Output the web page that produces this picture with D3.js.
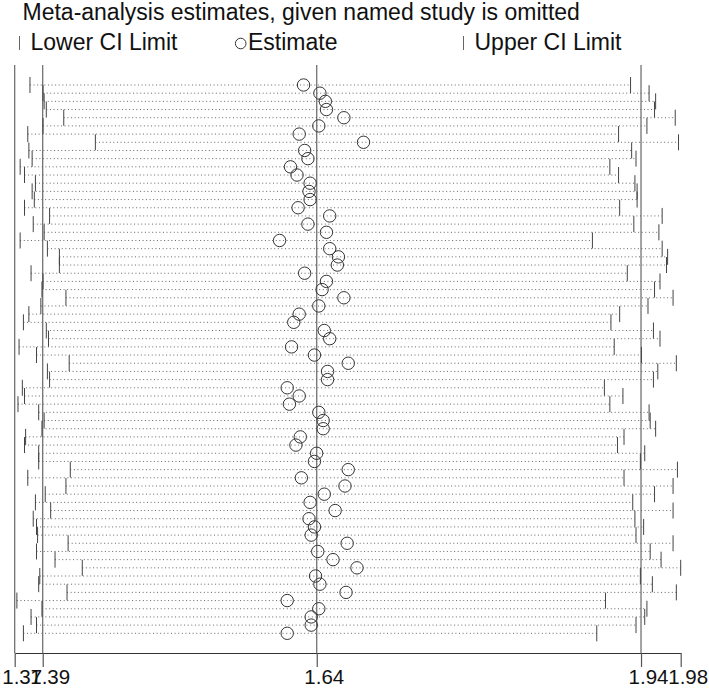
<!DOCTYPE html>
<html><head><meta charset="utf-8">
<script src="https://cdn.jsdelivr.net/npm/d3@7"></script>
<style>body{margin:0;background:#fff}svg{display:block}</style>
</head><body><svg id="c" width="709" height="688"></svg>
<script>
// Lower CI limit, estimate and upper CI limit when each study is omitted (rows top to bottom)
const lowerCI = [1.380,1.392,1.393,1.395,1.411,1.392,1.378,1.440,1.379,1.382,
1.371,1.375,1.385,1.382,1.384,1.375,1.398,1.383,1.393,1.371,
1.396,1.407,1.407,1.381,1.392,1.391,1.413,1.390,1.379,1.374,
1.395,1.397,1.370,1.386,1.416,1.396,1.398,1.373,1.375,1.369,
1.388,1.393,1.391,1.376,1.375,1.388,1.388,1.417,1.378,1.413,
1.394,1.385,1.399,1.383,1.386,1.387,1.415,1.386,1.403,1.428,
1.389,1.388,1.414,1.368,1.391,1.381,1.386,1.374];
const estimate = [1.631,1.646,1.651,1.652,1.668,1.645,1.627,1.686,1.632,1.635,
1.619,1.625,1.637,1.636,1.637,1.626,1.655,1.635,1.652,1.609,
1.655,1.663,1.662,1.632,1.652,1.648,1.668,1.645,1.627,1.622,
1.650,1.655,1.620,1.641,1.672,1.653,1.653,1.616,1.627,1.618,
1.645,1.649,1.649,1.628,1.624,1.643,1.641,1.672,1.629,1.669,
1.650,1.637,1.660,1.636,1.641,1.638,1.671,1.644,1.658,1.680,
1.642,1.646,1.670,1.616,1.645,1.638,1.638,1.616];
const upperCI = [1.931,1.948,1.954,1.953,1.972,1.946,1.920,1.975,1.932,1.936,
1.912,1.920,1.935,1.937,1.937,1.921,1.960,1.934,1.957,1.896,
1.960,1.965,1.964,1.928,1.958,1.953,1.970,1.947,1.921,1.913,
1.952,1.958,1.916,1.941,1.973,1.956,1.952,1.907,1.924,1.912,
1.948,1.949,1.954,1.925,1.919,1.944,1.940,1.974,1.925,1.970,
1.953,1.933,1.970,1.935,1.943,1.936,1.970,1.949,1.959,1.977,
1.940,1.951,1.973,1.908,1.946,1.944,1.936,1.900];
const studies = lowerCI.map((d, i) => "Study " + (i + 1));
// Axis: min lower, overall lower, overall estimate, overall upper, max upper
const tickValues = [1.366, 1.3917, 1.6431, 1.9406, 1.977];
const tickLabels = ["1.37", "1.39", "1.64", "1.94", "1.98"];
const refLines = [1.366, 1.3917, 1.6431, 1.9406];
const titleText = "Meta-analysis estimates, given named study is omitted";
const legendLabels = ["Lower CI Limit", "Estimate", "Upper CI Limit"];

const font = "'Liberation Sans', Arial, sans-serif";
const svg = d3.select("#c");
const x = d3.scaleLinear().domain([1.366, 1.977]).range([14.7, 680.7]);
const y = d3.scalePoint().domain(studies).range([85, 633.3]);
const axisY = 653, topY = 65;

// title
svg.append("text").attr("x", 22.5).attr("y", 19.5)
  .style("font-family", font).style("font-size", "23px").attr("fill", "#111")
  .text(titleText);

// legend
const lg = svg.append("g");
const legY = 50;
lg.append("line").attr("x1", 19.5).attr("x2", 19.5).attr("y1", legY - 14).attr("y2", legY).attr("stroke", "#666");
lg.append("text").attr("x", 30.5).attr("y", legY).style("font-family", font).style("font-size", "23px").attr("fill", "#111").text(legendLabels[0]);
lg.append("circle").attr("cx", 240.7).attr("cy", legY - 6.5).attr("r", 5.3).attr("fill", "none").attr("stroke", "#333");
lg.append("text").attr("x", 248).attr("y", legY).style("font-family", font).style("font-size", "23px").attr("fill", "#111").text(legendLabels[1]);
lg.append("line").attr("x1", 463.5).attr("x2", 463.5).attr("y1", legY - 14).attr("y2", legY).attr("stroke", "#666");
lg.append("text").attr("x", 474.5).attr("y", legY).style("font-family", font).style("font-size", "23px").attr("fill", "#111").text(legendLabels[2]);

// reference lines
svg.append("g").selectAll("line").data(refLines).join("line")
  .attr("x1", d => x(d)).attr("x2", d => x(d)).attr("y1", topY).attr("y2", axisY)
  .attr("stroke", "#666").attr("stroke-width", 1.2);

const rows = studies.map((s, i) => ({s, lo: lowerCI[i], est: estimate[i], hi: upperCI[i]}));

// dotted lines
svg.append("g").selectAll("line").data(rows).join("line")
  .attr("x1", d => x(d.lo)).attr("x2", d => x(d.hi))
  .attr("y1", d => y(d.s)).attr("y2", d => y(d.s))
  .attr("stroke", "#666").attr("stroke-width", 1).attr("stroke-dasharray", "1,2.6");

// CI ticks
const tickH = 8;
svg.append("g").selectAll("line").data(rows).join("line")
  .attr("x1", d => x(d.lo)).attr("x2", d => x(d.lo))
  .attr("y1", d => y(d.s) - tickH).attr("y2", d => y(d.s) + tickH)
  .attr("stroke", "#444").attr("stroke-width", 1);
svg.append("g").selectAll("line").data(rows).join("line")
  .attr("x1", d => x(d.hi)).attr("x2", d => x(d.hi))
  .attr("y1", d => y(d.s) - tickH).attr("y2", d => y(d.s) + tickH)
  .attr("stroke", "#444").attr("stroke-width", 1);

// estimates
svg.append("g").selectAll("circle").data(rows).join("circle")
  .attr("cx", d => x(d.est)).attr("cy", d => y(d.s)).attr("r", 6.2)
  .attr("fill", "none").attr("stroke", "#333").attr("stroke-width", 1);

// axis
const ax = svg.append("g").attr("transform", `translate(0,${axisY})`)
  .call(d3.axisBottom(x).tickValues(tickValues).tickFormat((d, i) => tickLabels[i]).tickSize(14).tickSizeOuter(0));
ax.select(".domain").attr("stroke", "#333");
ax.selectAll(".tick line").attr("stroke", "#555").attr("stroke-width", 1.2);
ax.selectAll(".tick text").attr("y", 0).attr("dy", null).attr("transform", "translate(7,30.5)")
  .style("font-family", font).style("font-size", "20.5px").attr("fill", "#111");
</script></body></html>
